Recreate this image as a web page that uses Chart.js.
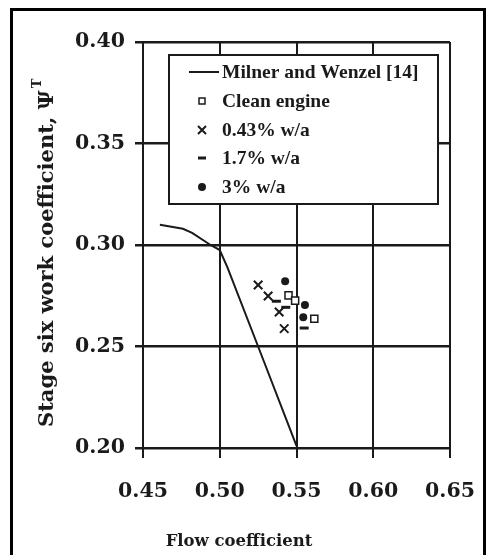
<!DOCTYPE html>
<html lang="en">
<head>
  <meta charset="UTF-8" />
  <title>Stage six work coefficient vs flow coefficient</title>
  <script src="https://cdn.jsdelivr.net/npm/chart.js"></script>
  <style>
    body { margin:0; background:#fff; }
    .wrap { width:487px; height:555px; position:relative; }
  </style>
</head>
<body>
<div class="wrap"><canvas id="chart"></canvas></div>
<script>
// tick labels
const xTicks = [0.45, 0.50, 0.55, 0.60, 0.65];
const yTicks = [0.20, 0.25, 0.30, 0.35, 0.40];

// Milner and Wenzel [14] curve
const milnerX = [0.461, 0.476, 0.482, 0.494, 0.500, 0.505, 0.525, 0.550];
const milnerY = [0.310, 0.308, 0.306, 0.300, 0.2975, 0.289, 0.250, 0.201];

// measured points
const cleanX = [0.5448, 0.5491, 0.5616];
const cleanY = [0.2752, 0.2726, 0.2637];
const w043X = [0.5250, 0.5315, 0.5387, 0.5420];
const w043Y = [0.2803, 0.2749, 0.2670, 0.2588];
const w17X = [0.5369, 0.5430, 0.5550];
const w17Y = [0.2723, 0.2693, 0.2591];
const w3X = [0.5426, 0.5555, 0.5544];
const w3Y = [0.2821, 0.2704, 0.2644];

const labels = ['Milner and Wenzel [14]', 'Clean engine', '0.43% w/a', '1.7% w/a', '3% w/a'];
const yTitle = 'Stage six work coefficient, Ψ';
const xTitle = 'Flow coefficient';

const ink = '#1a1a1a';
const pts = (xs, ys) => xs.map((x, i) => ({x, y: ys[i]}));

// legend box inside the plot, axis titles, outer frame
const extras = {
  id: 'extras',
  afterDraw(chart) {
    const c = chart.ctx;
    c.save();
    // legend box
    c.fillStyle = '#fff';
    c.fillRect(169, 55, 269, 149);
    c.strokeStyle = ink;
    c.lineWidth = 2;
    c.strokeRect(169, 55, 269, 149);
    const rows = [72, 101, 130, 158, 187];
    const sx = 202;
    c.font = 'bold 19.5px "Liberation Serif"';
    c.textBaseline = 'middle';
    c.fillStyle = ink;
    labels.forEach((t, i) => {
      const y = rows[i];
      c.lineWidth = 2;
      c.beginPath();
      if (i === 0) {
        c.moveTo(189, y); c.lineTo(219, y); c.stroke();
      } else if (i === 1) {
        c.lineWidth = 1.5;
        c.strokeRect(sx - 3, y - 3, 6, 6);
      } else if (i === 2) {
        c.moveTo(sx - 4, y - 4); c.lineTo(sx + 4, y + 4);
        c.moveTo(sx + 4, y - 4); c.lineTo(sx - 4, y + 4); c.stroke();
      } else if (i === 3) {
        c.lineWidth = 3;
        c.moveTo(sx - 4, y); c.lineTo(sx + 4, y); c.stroke();
      } else {
        c.arc(sx, y, 4, 0, Math.PI * 2); c.fill();
      }
      c.fillText(t, 222, y + 1);
    });

    // x axis title
    c.font = 'bold 16.5px "DejaVu Serif"';
    c.textAlign = 'center';
    c.fillText(xTitle, 239, 542);

    // y axis title, rotated, with superscript T
    c.save();
    c.translate(48, 427);
    c.rotate(-Math.PI / 2);
    c.font = 'bold 21px "DejaVu Serif"';
    c.textAlign = 'left';
    c.textBaseline = 'middle';
    c.fillText(yTitle, 0, 0);
    const w = c.measureText(yTitle).width;
    c.font = 'bold 13px "DejaVu Serif"';
    c.fillText('T', w + 2, -10);
    c.restore();

    // outer frame
    c.lineWidth = 3;
    c.strokeStyle = '#000';
    c.strokeRect(11.5, 9.5, 473, 560);
    c.restore();
  }
};

const tickFont = {family: '"DejaVu Serif"', weight: 'bold', size: 20.5};

new Chart(document.getElementById('chart'), {
  type: 'scatter',
  data: {
    datasets: [
      {label: labels[0], data: pts(milnerX, milnerY), showLine: true, pointRadius: 0,
       borderColor: ink, borderWidth: 2, tension: 0},
      {label: labels[1], data: pts(cleanX, cleanY), pointStyle: 'rect', pointRadius: 5,
       borderColor: ink, borderWidth: 1.5, backgroundColor: '#fff'},
      {label: labels[2], data: pts(w043X, w043Y), pointStyle: 'crossRot', pointRadius: 6,
       borderColor: ink, borderWidth: 2},
      {label: labels[3], data: pts(w17X, w17Y), pointStyle: 'line', pointRadius: 4.5,
       borderColor: ink, borderWidth: 3},
      {label: labels[4], data: pts(w3X, w3Y), pointStyle: 'circle', pointRadius: 4,
       borderColor: ink, backgroundColor: ink, borderWidth: 0}
    ]
  },
  options: {
    responsive: true,
    maintainAspectRatio: false,
    animation: false,
    layout: {padding: {top: 42, right: 37, left: 0, bottom: 0}},
    plugins: {legend: {display: false}, tooltip: {enabled: false}},
    scales: {
      x: {
        type: 'linear', min: 0.45, max: 0.65,
        afterBuildTicks: s => { s.ticks = xTicks.map(v => ({value: v})); },
        afterFit: s => { s.height = 107; s.paddingLeft = 0; s.paddingRight = 0; },
        ticks: {callback: v => v.toFixed(2), font: tickFont, color: ink, padding: 21,
                maxRotation: 0, autoSkip: false},
        grid: {color: ink, lineWidth: 2, tickLength: 10},
        border: {display: false},
        title: {display: false}
      },
      y: {
        type: 'linear', min: 0.20, max: 0.40,
        afterBuildTicks: s => { s.ticks = yTicks.map(v => ({value: v})); },
        afterFit: s => { s.width = 143; s.paddingTop = 0; s.paddingBottom = 0; },
        ticks: {callback: v => v.toFixed(2), font: tickFont, color: ink, padding: 10,
                autoSkip: false},
        grid: {color: ink, lineWidth: 2.5, tickLength: 8},
        border: {display: false},
        title: {display: false}
      }
    }
  },
  plugins: [extras]
});
</script>
</body>
</html>
